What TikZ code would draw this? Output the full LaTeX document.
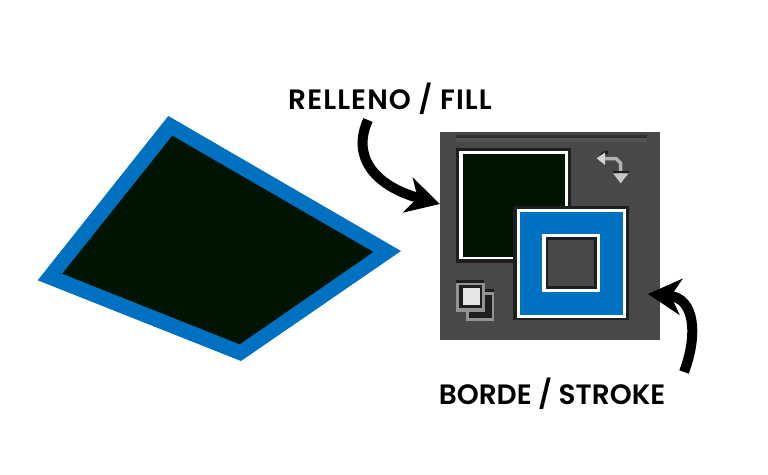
\documentclass[tikz,border=0pt]{standalone}
\usepackage{fontspec}
\setmainfont{Poppins}[BoldFont={Poppins SemiBold}]
\definecolor{strokeblue}{RGB}{0,112,192}
\definecolor{fillgreen}{RGB}{1,20,2}
\definecolor{panelgray}{RGB}{72,72,72}
\definecolor{paneldark}{RGB}{30,30,30}
\usetikzlibrary{arrows.meta,positioning}
\tikzset{
  labeltext/.style={font=\bfseries\fontsize{28}{31}\selectfont,inner sep=0pt},
  pointer/.style={line width=10pt,-{Stealth[length=33pt,width=36pt,inset=10pt]}},
  panelbox/.style={fill=panelgray,minimum width=220pt,minimum height=208pt,inner sep=0pt}
}
\begin{document}
\begin{tikzpicture}[x=1pt,y=-1pt]
  \useasboundingbox (0,0) rectangle (768,474);
  % the shape with its thick outline
  \fill[strokeblue] (168.3,116) -- (401,251) -- (241,361) -- (37.7,280.3) -- cycle;
  \fill[fillgreen] (172.3,135.7) -- (373.3,252) -- (239.7,344.3) -- (62.3,273.7) -- cycle;
  % tool panel
  \node[panelbox] (panel) at (550,236) {};
  \fill[black!35!panelgray] (456,135) rectangle (647,138);
  \fill[white!6!panelgray] (456,138) rectangle (647,142);
  % fill swatch
  \fill[paneldark] (456,148.3) rectangle (570.7,262.7);
  \fill[white] (459.3,151.3) rectangle (568,259.3);
  \fill[fillgreen] (462.7,154.3) rectangle (565,256.7);
  % stroke swatch, nested squares
  \fill[paneldark] (513.3,206) rectangle (628.7,320.3);
  \fill[white] (516.7,208.7) rectangle (625.7,317.7);
  \fill[strokeblue] (520,212) rectangle (622.7,314.7);
  \fill[white] (542.3,234.3) rectangle (599.7,292);
  \fill[paneldark] (545.7,237.3) rectangle (596.7,288.7);
  \fill[panelgray] (548.3,240) rectangle (594,286);
  % swap icon
  \draw[gray!60,line width=3.5pt] (604,158.5) -- (616,158.5) -- (620.5,163) -- (620.5,174);
  \fill[paneldark] (599,155) -- (605,150.5) -- (608,150.5) -- (608,154) -- cycle;
  \fill[gray!35] (596.7,158.3) -- (605,152.5) -- (605,165) -- cycle;
  \fill[paneldark] (612.7,170.5) rectangle (629,173.3);
  \fill[gray!45] (613,173.3) -- (628.5,173.3) -- (620.7,183.3) -- cycle;
  % default colours icon
  \fill[paneldark] (484,289) rectangle (494.3,292.3);
  \fill[gray!85] (466,292.3) rectangle (494.3,320.7);
  \fill[paneldark] (469.3,295) rectangle (491.7,317.7);
  \fill[paneldark] (456,279.5) rectangle (484.3,282.7);
  \fill[gray!85] (456,282.7) rectangle (485,311.7);
  \fill[paneldark] (459.3,285.3) rectangle (482.3,308.3);
  \fill[gray!20] (462.7,288.3) rectangle (480,305);
  % labels and pointers
  \node[labeltext] (fill label) at (390,98.7) {\addfontfeatures{LetterSpace=4}RELLENO / FILL};
  \node[labeltext] (stroke label) at (552,393.5) {BORDE / STROKE};
  \coordinate (fill start) at (368,120);
  \coordinate (stroke start) at (684,372);
  \draw[pointer] (fill start) .. controls (352,155) and (372,185) .. (panel.west |- 0,204);
  \draw[pointer] (stroke start) .. controls (698,335) and (695,298) .. (648,294);
\end{tikzpicture}
\end{document}
